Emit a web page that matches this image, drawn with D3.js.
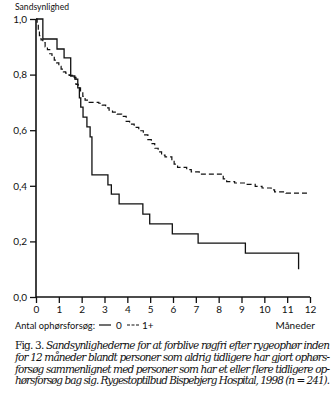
<!DOCTYPE html>
<html><head><meta charset="utf-8">
<script src="https://cdn.jsdelivr.net/npm/d3@7"></script>
<style>body{margin:0;background:#fff}svg{display:block}</style>
</head><body>
<script>
const monthTicks = [0,1,2,3,4,5,6,7,8,9,10,11,12];
const probTicks = [0,0.2,0.4,0.6,0.8,1.0];
const probLabels = ["0,0","0,2","0,4","0,6","0,8","1,0"];
// group 0 previous quit attempts: [month, survival]
const group0 = [[0,1.0],[0.3,0.928],[0.92,0.892],[1.23,0.86],[1.52,0.795],[1.7,0.784],[1.83,0.752],[1.9,0.716],[1.96,0.683],[2.06,0.647],[2.23,0.612],[2.37,0.576],[2.45,0.439],[3.15,0.403],[3.3,0.37],[3.64,0.335],[4.68,0.298],[4.98,0.263],[5.97,0.227],[7.1,0.194],[9.17,0.158],[11.5,0.122]];
const group0End = 11.5;
// group 1+ previous quit attempts
const group1 = [[0,1.0],[0.05,0.98],[0.1,0.96],[0.15,0.94],[0.22,0.925],[0.3,0.915],[0.4,0.9],[0.5,0.89],[0.6,0.875],[0.7,0.865],[0.8,0.852],[0.9,0.842],[1.0,0.83],[1.1,0.82],[1.2,0.81],[1.3,0.805],[1.45,0.797],[1.6,0.79],[1.75,0.765],[1.85,0.752],[1.95,0.738],[2.05,0.722],[2.15,0.708],[2.25,0.7],[2.75,0.697],[2.9,0.69],[3.05,0.68],[3.2,0.672],[3.35,0.665],[3.55,0.658],[3.75,0.65],[3.95,0.632],[4.1,0.622],[4.3,0.61],[4.5,0.598],[4.7,0.583],[4.9,0.566],[5.05,0.552],[5.2,0.535],[5.35,0.522],[5.5,0.51],[5.65,0.504],[5.95,0.49],[6.05,0.478],[6.2,0.466],[6.6,0.458],[6.8,0.45],[7.15,0.442],[8.2,0.425],[8.35,0.415],[8.7,0.41],[9.2,0.405],[9.6,0.398],[9.9,0.392],[10.3,0.385],[10.45,0.378],[10.95,0.374]];
const group1End = 11.9;
const captionLines = [
  ["Fig. 3. ","Sandsynlighederne for at forblive røgfri efter rygeophør inden"],
  ["","for 12 måneder blandt personer som aldrig tidligere har gjort ophørs-"],
  ["","forsøg sammenlignet med personer som har et eller flere tidligere op-"],
  ["","hørsforsøg bag sig. Rygestoptilbud Bispebjerg Hospital, 1998 (n = 241)."]
];

const W=335,H=404;
const svg=d3.select("body").append("svg").attr("width",W).attr("height",H);
const x=d3.scaleLinear().domain([0,12]).range([36,310]);
const y=d3.scaleLinear().domain([0,1]).range([297,19]);
const sans="Lato, 'Open Sans', sans-serif";
const ink="#111";

// axes
const ya=svg.append("g").attr("transform","translate(36,0)")
  .call(d3.axisLeft(y).tickValues(probTicks).tickSize(6).tickPadding(3).tickFormat((d,i)=>probLabels[i]));
const xa=svg.append("g").attr("transform","translate(0,297)")
  .call(d3.axisBottom(x).tickValues(monthTicks).tickSize(6).tickPadding(3).tickFormat(d3.format("d")));
[ya,xa].forEach(g=>{
  g.select(".domain").attr("stroke",ink).attr("stroke-width",1.6);
  g.selectAll(".tick line").attr("stroke",ink).attr("stroke-width",1.3);
  g.selectAll(".tick text").attr("fill",ink).style("font-family",sans).style("font-size","10px");
});
ya.select(".domain").attr("d","M0,19V297");
xa.select(".domain").attr("d","M36,0H310");

svg.append("text").attr("x",15).attr("y",10).text("Sandsynlighed")
  .attr("textLength",54).attr("lengthAdjust","spacingAndGlyphs")
  .attr("fill",ink).style("font-family",sans).style("font-size","10px");

const line=d3.line().x(d=>x(d[0])).y(d=>y(d[1])).curve(d3.curveStepAfter);
const g0=group0.concat([[group0End,group0[group0.length-1][1]]]);
svg.append("path").attr("d",line(g0)+"V"+y(0.1)).attr("fill","none").attr("stroke",ink).attr("stroke-width",1.3);
const g1=group1.concat([[group1End,group1[group1.length-1][1]]]);
svg.append("path").attr("d",line(g1)).attr("fill","none").attr("stroke",ink).attr("stroke-width",1.2).attr("stroke-dasharray","5,3");

// legend
const ly=325;
const lt=(xx,s,anchor,len)=>{const t=svg.append("text").attr("x",xx).attr("y",ly+3.5).attr("text-anchor",anchor||"start").text(s).attr("fill",ink).style("font-family",sans).style("font-size","10px");
  if(len) t.attr("textLength",len).attr("lengthAdjust","spacingAndGlyphs"); return t;};
lt(15,"Antal ophørsforsøg:",null,80);
svg.append("line").attr("x1",99).attr("x2",111).attr("y1",ly).attr("y2",ly).attr("stroke",ink).attr("stroke-width",1.2);
lt(116,"0");
svg.append("line").attr("x1",127).attr("x2",139).attr("y1",ly).attr("y2",ly).attr("stroke",ink).attr("stroke-width",1.2).attr("stroke-dasharray","3,1.5");
lt(142,"1+");
lt(315,"Måneder","end");

// caption
const serif="'DejaVu Serif','Liberation Serif',serif";
captionLines.forEach((l,i)=>{
  const t=svg.append("text").attr("x",15).attr("y",349+i*11.8)
    .attr("textLength",315).attr("lengthAdjust","spacing")
    .attr("fill",ink).style("font-family",serif).style("font-size","10.5px");
  if(l[0]) t.append("tspan").text(l[0]);
  t.append("tspan").style("font-style","italic").text(l[1]);
});
</script>
</body></html>
